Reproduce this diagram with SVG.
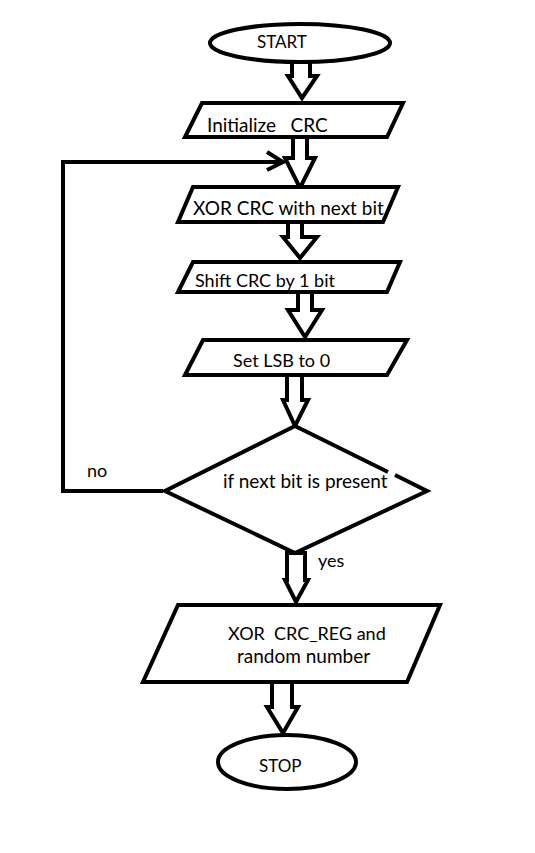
<svg xmlns="http://www.w3.org/2000/svg" width="535" height="853" viewBox="0 0 535 853">
<style>
.s{fill:#fff;stroke:#000;stroke-width:4;stroke-linejoin:miter}
.l{fill:none;stroke:#000;stroke-width:4}
.a{fill:#fff;stroke:#000;stroke-width:4;stroke-linejoin:miter}
text{font-family:Lato,"Open Sans","Liberation Sans",sans-serif;font-size:19px;fill:#000}
.m{font-size:18px}
.t{font-size:17px}
</style>
<rect width="535" height="853" fill="#fff"/>
<g id="connectors">
<path class="a" d="M292,62 V76 H288 L302,98 L317,76 H310 V62 Z"/>
<path class="a" d="M293,137 V158 H285 L300,188 L315,158 H307 V137 Z"/>
<path class="a" d="M288,222 V237 H283 L300,258 L317,237 H302 V222 Z"/>
<path class="a" d="M298,292 V310 H288 L305,337 L322,310 H312 V292 Z"/>
<path class="a" d="M287,375 V400 H283 L295,426 L308,400 H302 V375 Z"/>
<path class="a" d="M287,553 V580 H285 L296,602 L308,580 H305 V553 Z"/>
<path class="a" d="M272,682 V707 H267 L283,733 L298,707 H292 V682 Z"/>
<path class="l" d="M163,491 H63 V162 H282"/>
<path class="l" d="M267,152 L283,162 L267,170"/>
<text class="m" x="87" y="477">no</text>
<text class="m" x="318" y="567">yes</text>
</g>
<g id="start">
<ellipse class="s" cx="300" cy="43" rx="90" ry="19"/>
<text class="t" x="257" y="48">START</text>
</g>
<g id="init">
<path class="s" d="M202,103 H403 L387,137 H185 Z"/>
<text x="207" y="132" xml:space="preserve">Initialize   CRC</text>
</g>
<g id="xor">
<path class="s" d="M193,187 H398 L383,222 H178 Z"/>
<text x="193" y="215">XOR CRC with next bit</text>
</g>
<g id="shift">
<path class="s" d="M193,262 H400 L387,292 H178 Z"/>
<text class="m" x="195" y="287">Shift CRC by 1 bit</text>
</g>
<g id="setlsb">
<path class="s" d="M203,340 H407 L387,375 H185 Z"/>
<text class="m" x="233" y="367">Set LSB to 0</text>
</g>
<g id="decision">
<path class="s" d="M295,426 L165,491 L295,553 L427,491 L395,475"/>
<path class="l" d="M388,472 L295,426"/>
<text x="223" y="488">if next bit is present</text>
</g>
<g id="xorreg">
<path class="s" d="M178,605 H440 L407,682 H143 Z"/>
<text class="m" x="228" y="640" xml:space="preserve">XOR  CRC_REG and</text>
<text x="237" y="663">random number</text>
</g>
<g id="stop">
<ellipse class="s" cx="287" cy="762" rx="69" ry="27"/>
<text class="t" x="259" y="772">STOP</text>
</g>
</svg>
